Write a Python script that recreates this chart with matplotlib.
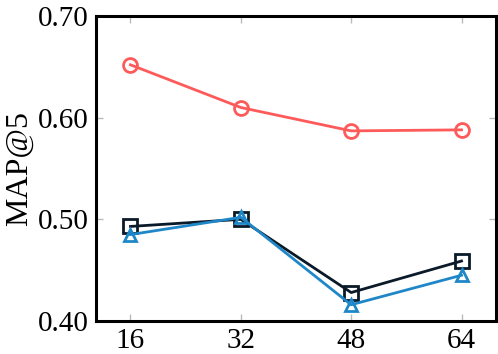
import numpy as np
import matplotlib
matplotlib.use("Agg")
import matplotlib.pyplot as plt

plt.rcParams['font.family'] = ['Liberation Serif', 'DejaVu Serif']

x_vals = [16, 32, 48, 64]
red_vals = [0.652, 0.610, 0.587, 0.588]
black_vals = [0.493, 0.500, 0.428, 0.459]
blue_vals = [0.485, 0.502, 0.416, 0.445]

fig = plt.figure(figsize=(4.98, 3.54), dpi=100)
ax = fig.add_axes([96 / 498, 33 / 354, 400 / 498, 305 / 354])

ax.plot(x_vals, red_vals, color='#ff5a5a', lw=2, marker='o', ms=10,
        mfc='none', mew=2)
ax.plot(x_vals, black_vals, color='#0b1a28', lw=2, marker='s', ms=10,
        mfc='none', mew=2)
ax.plot(x_vals, blue_vals, color='#1f87c8', lw=2, marker='^', ms=9,
        mfc='none', mew=2)

ax.set_xlim(11, 69)
ax.set_ylim(0.40, 0.70)
ax.set_xticks(x_vals)
ax.set_yticks([0.40, 0.50, 0.60, 0.70])
ax.set_yticklabels(['0.40', '0.50', '0.60', '0.70'])
ax.set_ylabel('MAP@5', fontsize=23, labelpad=3)
ax.tick_params(axis='both', direction='in', length=5, width=1, color='#bbbbbb',
               labelsize=21, top=True, right=True, pad=5)
for s in ax.spines.values():
    s.set_linewidth(2.2)
    s.set_color('black')

fig.savefig('out.png', dpi=100)
